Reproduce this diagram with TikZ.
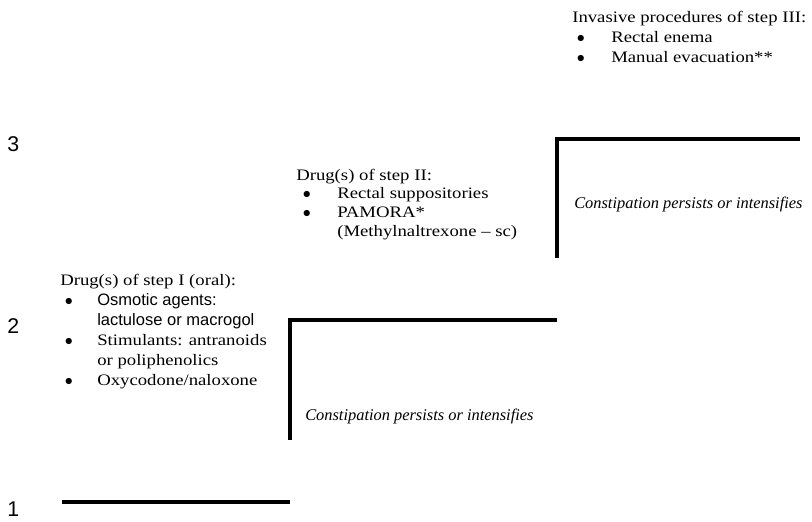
\documentclass[tikz,border=0pt]{standalone}
\usepackage{fontspec}
\setmainfont{Liberation Serif}
\setsansfont{Liberation Sans}
\newfontfamily\widefont{Liberation Serif}[FakeStretch=1.17, Ligatures=TeX]
\usepackage{tikz}
\usetikzlibrary{positioning}

\newcommand{\osmotic}[1]{{\fontsize{12.4}{15}\selectfont\sffamily #1}}
\newcommand{\itemdot}{$\bullet$}

\begin{document}
\begin{tikzpicture}[x=0.75pt, y=-0.75pt,
  stepline/.style={line width=2.3pt},
  drugtext/.style={inner sep=0pt, anchor=base west, font=\fontsize{12}{15}\selectfont\widefont},
  persisttext/.style={inner sep=0pt, anchor=base west, font=\fontsize{12.3}{15}\selectfont\itshape},
  levelnum/.style={inner sep=0pt, anchor=base west, font=\fontsize{16}{18}\selectfont\sffamily}]
  \useasboundingbox (0,0) rectangle (812,521);

  % corners of the stairs
  \coordinate (s1a) at (62,502);
  \coordinate (s1b) at (290,502);
  \coordinate (s2a) at (290,440);
  \coordinate (s2b) at (290,320);
  \coordinate (s2c) at (557,320);
  \coordinate (s3a) at (557,258);
  \coordinate (s3b) at (557,139);
  \coordinate (s3c) at (800,139);

  \draw[stepline] (s1a) -- (s1b);
  \draw[stepline] (s2a) -- (s2b) -- (s2c);
  \draw[stepline] (s3a) -- (s3b) -- (s3c);

  \node[levelnum] (one)   at (7,516) {1};
  \node[levelnum] (two)   at (7,333) {2};
  \node[levelnum] (three) at (7,151) {3};

  \node[drugtext] (stepone) at (60,285) {\begin{tabular}[t]{@{\hspace{3.5pt}}p{24.25pt}@{}l@{}}
    \multicolumn{2}{@{}l@{}}{Drug(s) of step I (oral):}\\
    \itemdot & \osmotic{Osmotic agents:}\\
             & \osmotic{lactulose or macrogol}\\
    \itemdot & Stimulants: antranoids\\
             & or poliphenolics\\
    \itemdot & Oxycodone/naloxone
  \end{tabular}};

  \node[drugtext, font=\fontsize{12}{14}\selectfont\widefont] (steptwo) at (296,180) {\begin{tabular}[t]{@{\hspace{5pt}}p{25.75pt}@{}l@{}}
    \multicolumn{2}{@{}l@{}}{Drug(s) of step II:}\\
    \itemdot & Rectal suppositories\\
    \itemdot & PAMORA*\\
             & (Methylnaltrexone -- sc)
  \end{tabular}};

  \node[drugtext] (stepthree) at (572,22) {\begin{tabular}[t]{@{\hspace{3.5pt}}p{25.75pt}@{}l@{}}
    \multicolumn{2}{@{}l@{}}{Invasive procedures of step III:}\\
    \itemdot & Rectal enema\\
    \itemdot & Manual evacuation**
  \end{tabular}};

  \node[persisttext] (persistone) at (305,420) {Constipation persists or intensifies};
  \node[persisttext] (persisttwo) at (574,208) {Constipation persists or intensifies};
\end{tikzpicture}
\end{document}
